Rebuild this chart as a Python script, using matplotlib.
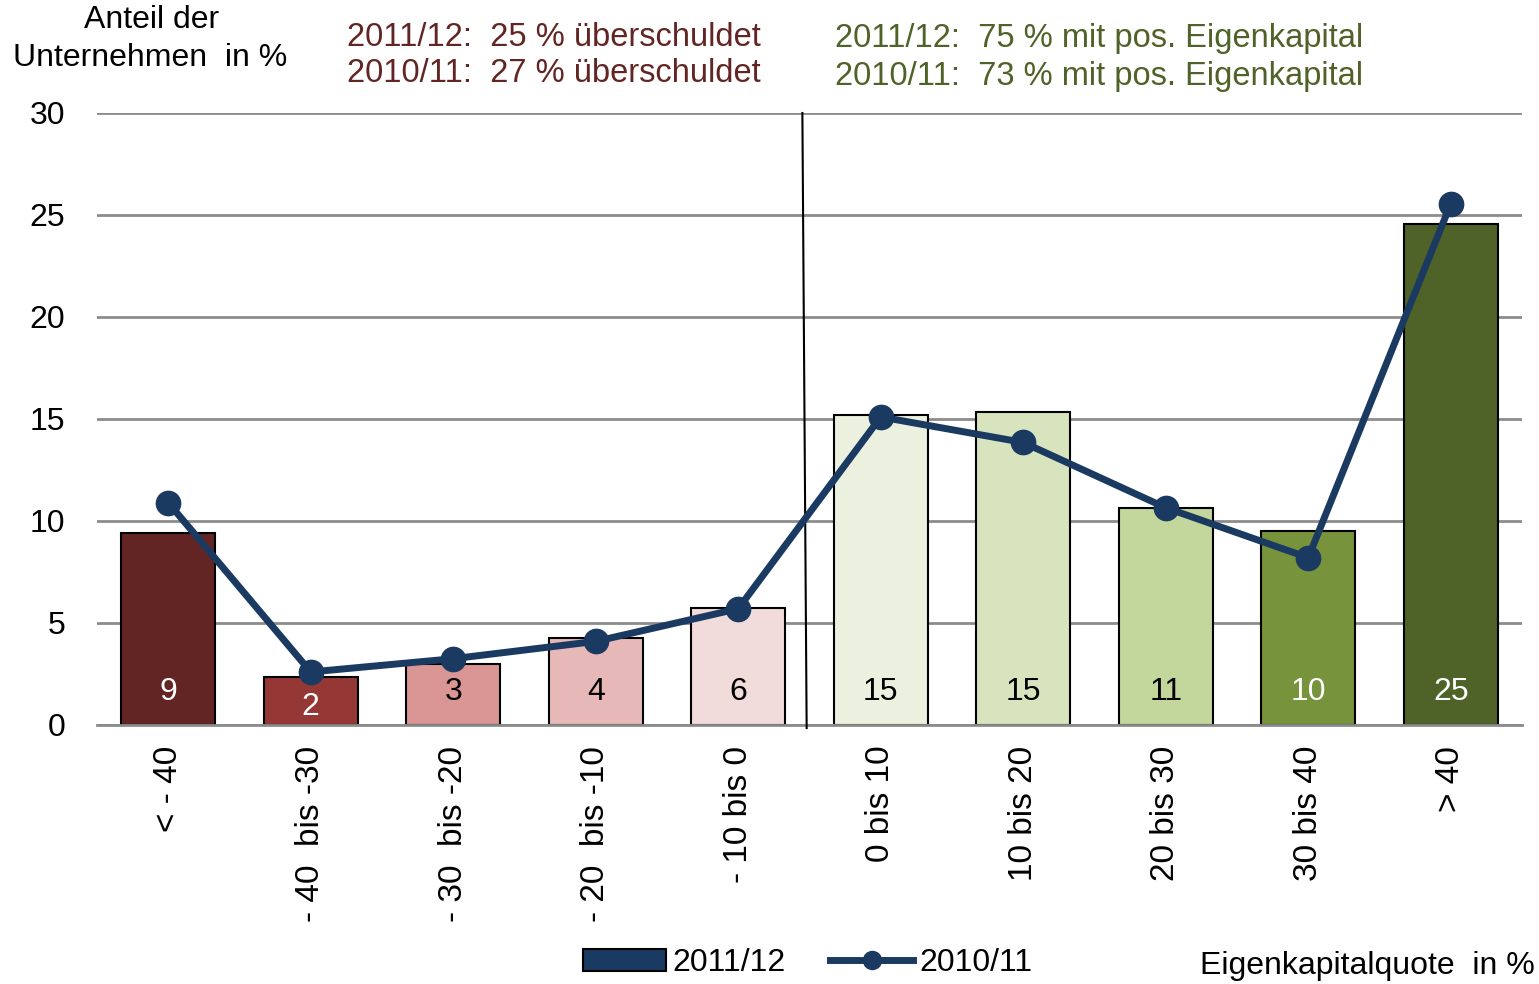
import matplotlib
matplotlib.use("Agg")
import matplotlib.pyplot as plt
from matplotlib.lines import Line2D
from matplotlib.patches import Patch

plt.rcParams['font.family'] = ['Liberation Sans', 'DejaVu Sans']

categories = ["< - 40", "- 40  bis -30", "- 30  bis -20", "- 20  bis -10", "- 10 bis 0",
              "0 bis 10", "10 bis 20", "20 bis 30", "30 bis 40", "> 40"]
values_2011 = [9.4, 2.35, 3.0, 4.25, 5.75, 15.2, 15.35, 10.65, 9.5, 24.55]
values_2010 = [10.9, 2.6, 3.25, 4.1, 5.7, 15.1, 13.85, 10.65, 8.2, 25.55]
bar_labels = ["9", "2", "3", "4", "6", "15", "15", "11", "10", "25"]
bar_colors = ["#632523", "#953735", "#D99694", "#E6B9B8", "#F2DCDB",
              "#EBF1DE", "#D7E4BD", "#C3D69B", "#77933C", "#4F6228"]
label_colors = ["white", "white", "black", "black", "black",
                "black", "black", "black", "white", "white"]
yticks = [0, 5, 10, 15, 20, 25, 30]

line_color = "#1B3A62"
FS = 23
HFS = 23.5

fig = plt.figure(figsize=(15.39, 9.84), dpi=100)
ax = fig.add_axes([97/1539, 1-725/984, (1522-97)/1539, (725-113)/984])

x = list(range(len(categories)))
ax.bar(x, values_2011, width=0.66, color=bar_colors, edgecolor="black", linewidth=1.5, zorder=2)
ax.plot(x, values_2010, color=line_color, linewidth=5, marker="o", markersize=17.5,
        zorder=4, solid_joinstyle="round")

for xi, v, lab, c in zip(x, values_2011, bar_labels, label_colors):
    ly = 1.6 if v > 2.8 else v - 1.45
    ax.text(xi, ly, lab, ha="center", va="center", fontsize=FS, color=c, zorder=5)

# separator line
ax.plot([4.45, 4.48], [30, -0.15], color="black", linewidth=1.5, zorder=3, clip_on=False)

ax.set_xlim(-0.5, 9.5)
ax.set_ylim(0, 30)
ax.set_yticks(yticks)
ax.set_yticklabels([str(t) for t in yticks], fontsize=FS)
ax.yaxis.grid(True, color="#8C8C8C", linewidth=2, zorder=0)
ax.set_axisbelow(True)
for s in ["left", "right", "top"]:
    ax.spines[s].set_visible(False)
ax.spines["bottom"].set_color("#8C8C8C")
ax.spines["bottom"].set_linewidth(2)
ax.tick_params(axis="y", length=0, pad=23)
ax.tick_params(axis="x", length=0, pad=15)
ax.set_xticks(x)
ax.set_xticklabels(categories, rotation=90, fontsize=24, va="top", ha="center")

# header texts
fig.text(152/1539, 1-20/984, "Anteil der", ha="center", va="center", fontsize=FS)
fig.text(150/1539, 1-58/984, "Unternehmen  in %", ha="center", va="center", fontsize=FS)
red = "#632523"
green = "#4F6228"
fig.text(347/1539, 1-38/984, "2011/12:  25 % überschuldet", ha="left", va="center", fontsize=HFS, color=red)
fig.text(347/1539, 1-74/984, "2010/11:  27 % überschuldet", ha="left", va="center", fontsize=HFS, color=red)
fig.text(835/1539, 1-38/984, "2011/12:  75 % mit pos. Eigenkapital", ha="left", va="center", fontsize=HFS, color=green)
fig.text(835/1539, 1-76/984, "2010/11:  73 % mit pos. Eigenkapital", ha="left", va="center", fontsize=HFS, color=green)

fig.text(1535/1539, 1-966/984, "Eigenkapitalquote  in %", ha="right", va="center", fontsize=FS)

handles = [Patch(facecolor=line_color, edgecolor="black", linewidth=1.5),
           Line2D([0], [0], color=line_color, linewidth=5, marker="o", markersize=13)]
fig.legend(handles, ["2011/12", "2010/11"], loc="center", bbox_to_anchor=(808/1539, 1-963/984),
           ncol=2, frameon=False, fontsize=FS, handlelength=2.6, handleheight=0.7,
           handletextpad=0.2, columnspacing=1.4)

fig.savefig("out.png", dpi=100)
